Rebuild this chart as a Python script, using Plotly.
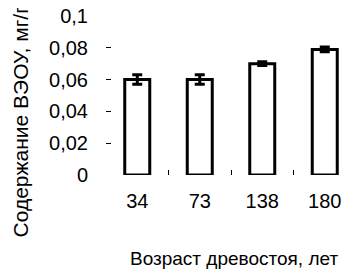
import plotly.graph_objects as go

categories = ["34", "73", "138", "180"]
values = [0.06, 0.06, 0.07, 0.079]
errors = [0.003, 0.003, 0.0012, 0.0015]
y_ticks = [0, 0.02, 0.04, 0.06, 0.08, 0.1]
y_title = "Содержание ВЭОУ, мг/г"
x_title = "Возраст древостоя, лет"

FONT = "Liberation Sans, Arial, sans-serif"

fig = go.Figure(go.Bar(
    x=categories, y=values,
    marker=dict(color="white", line=dict(color="black", width=3)),
    width=0.4,
    error_y=dict(type="data", array=errors, color="black", thickness=3, width=5),
))

# page body has an 8px default margin, so the figure is 8px smaller
fig.update_layout(
    width=348, height=263,
    margin=dict(l=98, r=0, t=8, b=96, autoexpand=False),
    paper_bgcolor="white", plot_bgcolor="white",
    separators=", ",
    showlegend=False,
    font=dict(family=FONT, color="black", size=20),
    annotations=[
        dict(text=y_title, textangle=-90, xref="paper", yref="paper",
             x=-0.392, y=-0.4025, xanchor="left", yanchor="bottom",
             showarrow=False, font=dict(size=21), borderpad=0),
        dict(text=x_title, xref="paper", yref="paper",
             x=0.512, y=-0.528, xanchor="center", yanchor="middle",
             showarrow=False, font=dict(size=19)),
    ],
)
fig.update_xaxes(showline=False, showgrid=False, zeroline=False, automargin=False,
                 ticks="inside", tickson="boundaries", ticklen=5, tickwidth=1,
                 tickcolor="black", ticklabelstandoff=12, ticklabeloverflow="allow")
fig.update_yaxes(range=[0, 0.1], tickvals=y_ticks, showline=False, showgrid=False,
                 zeroline=False, automargin=False, ticks="inside", ticklen=5, tickwidth=1,
                 tickcolor="black", ticklabelstandoff=17, ticklabeloverflow="allow")

fig.write_html("out.html")
